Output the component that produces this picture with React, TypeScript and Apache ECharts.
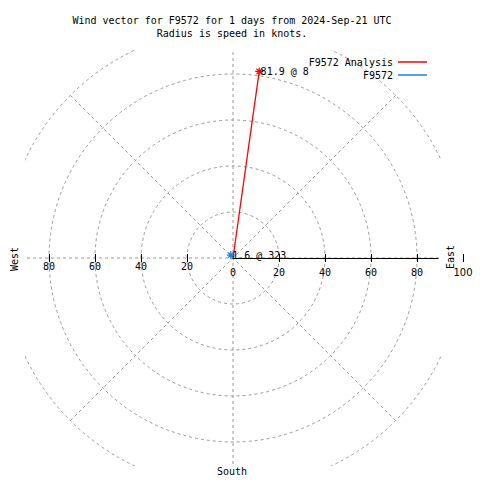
import React, { useEffect, useRef } from "react";
import * as echarts from "echarts";

const titleLines = [
  "Wind vector for F9572 for 1 days from 2024-Sep-21 UTC",
  "Radius is speed in knots.",
];
const seriesNames = ["F9572 Analysis", "F9572"];
const seriesColors = ["#ff0000", "#1e80e0"];
const speedKnots = [81.9, 1.6];
const directionDeg = [8, 323];
const eastTickValues = [0, 20, 40, 60, 80, 100];
const westTickValues = [-80, -60, -40, -20];
const compassLabels = { west: "West", south: "South", east: "East" };

const MONO = "DejaVu Sans Mono";
const SANS = "DejaVu Sans";
const GRID_GRAY = "#999999";
const STAR = "path://M0 5 L10 5 M5 0 L5 10 M1.6 1.6 L8.4 8.4 M1.6 8.4 L8.4 1.6";

export default function App() {
  const ref = useRef<HTMLDivElement>(null);

  useEffect(() => {
    if (!ref.current) return;
    const chart = echarts.init(ref.current, undefined, { renderer: "svg" });

    const cx = 233;
    const cy = 258;
    const half = 208;

    const series = seriesNames.map((name, i) => {
      const speed = speedKnots[i];
      const dir = directionDeg[i];
      const color = seriesColors[i];
      return {
        type: "line",
        name,
        coordinateSystem: "polar",
        color,
        z: 2 + i,
        lineStyle: { color, width: 1.3 },
        itemStyle: { color, borderColor: color, borderWidth: 1.2 },
        data: [
          { value: [0, dir], symbol: "none", label: { show: false } },
          {
            value: [speed, dir],
            symbol: STAR,
            symbolSize: 8,
            label: {
              show: true,
              formatter: `${speed} @ ${dir}`,
              position: [6, 5],
              align: "left",
              verticalAlign: "middle",
              color: "#000",
              fontFamily: MONO,
              fontSize: 10,
            },
          },
        ],
      };
    });

    const maskStyle = { fill: "#ffffff" };

    chart.setOption({
      animation: false,
      backgroundColor: "#ffffff",
      polar: { center: [cx, cy], radius: 230 },
      angleAxis: {
        type: "value",
        min: 0,
        max: 360,
        interval: 45,
        startAngle: 90,
        clockwise: true,
        z: 0,
        axisLine: { show: false },
        axisTick: { show: false },
        axisLabel: { show: false },
        splitLine: { show: true, lineStyle: { color: GRID_GRAY, width: 1, type: [3, 3] } },
      },
      radiusAxis: {
        type: "value",
        min: 0,
        max: 100,
        interval: 20,
        z: 0,
        axisLine: { show: false },
        axisTick: { show: false },
        axisLabel: { show: false },
        splitLine: { show: true, lineStyle: { color: GRID_GRAY, width: 1, type: [3, 3] } },
      },
      grid: [
        { left: 3, right: 17, top: 250, height: 8, show: false },
        { left: cx, width: 205, top: 250, height: 8, show: false },
      ],
      xAxis: [
        {
          type: "value",
          gridIndex: 0,
          position: "bottom",
          min: -100,
          max: 100,
          z: 3,
          axisLine: { show: false, onZero: false },
          axisTick: {
            show: true,
            inside: true,
            length: 4,
            customValues: [...westTickValues, ...eastTickValues],
            lineStyle: { color: "#000", width: 1 },
          },
          axisLabel: {
            show: true,
            customValues: eastTickValues,
            margin: 9,
            color: "#000",
            fontFamily: MONO,
            fontSize: 10,
            formatter: (v: number) => (v === 100 ? "{s|100}" : String(Math.abs(v))),
            rich: { s: { fontFamily: SANS, fontSize: 10, color: "#000" } },
          },
          splitLine: { show: false },
        },
        {
          type: "value",
          gridIndex: 0,
          position: "bottom",
          min: -100,
          max: 100,
          z: 3,
          axisLine: { show: false, onZero: false },
          axisTick: {
            show: true,
            inside: false,
            length: 4,
            customValues: [...westTickValues, ...eastTickValues.filter((v) => v !== 0)],
            lineStyle: { color: "#000", width: 1 },
          },
          axisLabel: {
            show: true,
            customValues: westTickValues,
            margin: 3,
            color: "#000",
            fontFamily: MONO,
            fontSize: 10,
            formatter: (v: number) => String(Math.abs(v)),
          },
          splitLine: { show: false },
        },
        {
          type: "value",
          gridIndex: 1,
          position: "bottom",
          min: 0,
          max: 1,
          z: 3,
          axisLine: { show: true, onZero: false, lineStyle: { color: "#000", width: 1 } },
          axisTick: { show: false },
          axisLabel: { show: false },
          splitLine: { show: false },
        },
      ],
      yAxis: [
        { type: "value", gridIndex: 0, min: 0, max: 1, show: false },
        { type: "value", gridIndex: 1, min: 0, max: 1, show: false },
      ],
      legend: {
        data: seriesNames,
        orient: "vertical",
        align: "right",
        right: 53,
        top: 56,
        padding: 0,
        itemGap: 1,
        itemWidth: 29,
        itemHeight: 1.5,
        icon: "rect",
        itemStyle: { borderWidth: 0 },
        textStyle: { fontFamily: MONO, fontSize: 10, color: "#000", lineHeight: 12 },
        z: 10,
      },
      graphic: [
        { type: "rect", z: 1, silent: true, shape: { x: 0, y: 0, width: 480, height: cy - half }, style: maskStyle },
        { type: "rect", z: 1, silent: true, shape: { x: 0, y: cy + half, width: 480, height: 480 - cy - half }, style: maskStyle },
        { type: "rect", z: 1, silent: true, shape: { x: 0, y: 0, width: cx - half, height: 480 }, style: maskStyle },
        { type: "rect", z: 1, silent: true, shape: { x: cx + half, y: 0, width: 480 - cx - half, height: 480 }, style: maskStyle },
        {
          type: "text", z: 10, x: 232, y: 20,
          style: { text: titleLines[0], fontFamily: MONO, fontSize: 10, fill: "#000", textAlign: "center", textVerticalAlign: "middle" },
        },
        {
          type: "text", z: 10, x: 232, y: 33,
          style: { text: titleLines[1], fontFamily: MONO, fontSize: 10, fill: "#000", textAlign: "center", textVerticalAlign: "middle" },
        },
        {
          type: "text", z: 10, x: 14, y: 259, rotation: Math.PI / 2,
          style: { text: compassLabels.west, fontFamily: MONO, fontSize: 10, fill: "#000", textAlign: "center", textVerticalAlign: "middle" },
        },
        {
          type: "text", z: 10, x: 450, y: 257, rotation: Math.PI / 2,
          style: { text: compassLabels.east, fontFamily: MONO, fontSize: 10, fill: "#000", textAlign: "center", textVerticalAlign: "middle" },
        },
        {
          type: "text", z: 10, x: 232, y: 471,
          style: { text: compassLabels.south, fontFamily: MONO, fontSize: 10, fill: "#000", textAlign: "center", textVerticalAlign: "middle" },
        },
      ],
      series,
    });

    return () => chart.dispose();
  }, []);

  return (
    <div
      ref={ref}
      style={{ position: "fixed", left: 0, top: 0, width: 480, height: 480, background: "#fff" }}
    />
  );
}
